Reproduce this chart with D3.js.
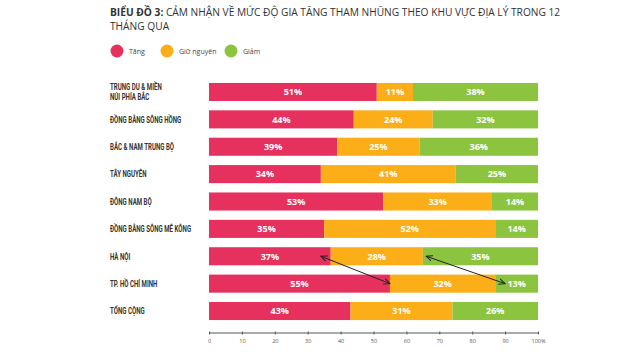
<!DOCTYPE html>
<html><head><meta charset="utf-8">
<script src="https://cdn.jsdelivr.net/npm/d3@7"></script>
<style>
body{margin:0;background:#fff;}
svg{display:block;}
</style></head>
<body>
<svg id="c" width="640" height="360"></svg>
<script>
const categories = [
  ["TRUNG DU & MIỀN","NÚI PHÍA BẮC"],
  ["ĐỒNG BẰNG SÔNG HỒNG"],
  ["BẮC & NAM TRUNG BỘ"],
  ["TÂY NGUYÊN"],
  ["ĐÔNG NAM BỘ"],
  ["ĐỒNG BẰNG SÔNG MÊ KÔNG"],
  ["HÀ NỘI"],
  ["TP. HỒ CHÍ MINH"],
  ["TỔNG CỘNG"]
];
const seriesNames = ["Tăng","Giữ nguyên","Giảm"];
const tang = [51,44,39,34,53,35,37,55,43];
const giuNguyen = [11,24,25,41,33,52,28,32,31];
const giam = [38,32,36,25,14,14,35,13,26];
const colors = ["#e6305e","#fbae17","#8cc43f"];
const tickValues = [0,10,20,30,40,50,60,70,80,90,100];
// arrows: [rowFrom, valueFrom, rowTo, valueTo]
const arrows = [[6,34,7,55],[6,66,7,90]];

const svg = d3.select("#c");
const x = d3.scaleLinear().domain([0,100]).range([209,538]);
const y = d3.scaleBand().domain(d3.range(categories.length)).range([78.3,324.7]).paddingInner(0.34).paddingOuter(0.17);

// title
const t = svg.append("text").attr("x",110).attr("y",16).attr("font-family","'Open Sans', sans-serif").attr("font-size",10.2).attr("fill","#333");
t.append("tspan").attr("font-weight","bold").text("BIỂU ĐỒ 3: ");
t.append("tspan").text("CẢM NHẬN VỀ MỨC ĐỘ GIA TĂNG THAM NHŨNG THEO KHU VỰC ĐỊA LÝ TRONG 12");
svg.append("text").attr("x",110).attr("y",30).attr("font-family","'Open Sans', sans-serif").attr("font-size",10.2).attr("fill","#333").text("THÁNG QUA");

// legend
const legX = [117,167,231];
seriesNames.forEach((n,i)=>{
  svg.append("circle").attr("cx",legX[i]).attr("cy",51).attr("r",6.5).attr("fill",colors[i]);
  svg.append("text").attr("x",legX[i]+12).attr("y",54).attr("font-family","'Open Sans', sans-serif").attr("font-size",7).attr("fill","#444").text(n);
});

// bars
const rows = categories.map((c,i)=>({i, vals:[tang[i],giuNguyen[i],giam[i]]}));
rows.forEach(r=>{
  let acc=0;
  r.vals.forEach((v,k)=>{
    const x0=acc, x1=Math.min(acc+v,100); acc=acc+v;
    svg.append("rect").attr("x",x(x0)).attr("y",y(r.i)).attr("width",x(x1)-x(x0)).attr("height",y.bandwidth()).attr("fill",colors[k]);
    svg.append("text").attr("x",(x(x0)+x(x1))/2).attr("y",y(r.i)+y.bandwidth()/2+3.3)
      .attr("text-anchor","middle").attr("font-family","'Open Sans', sans-serif").attr("font-weight","bold")
      .attr("font-size",9).attr("fill","#fff").text(v+"%");
  });
  // category label
  const lines = categories[r.i];
  const cy = y(r.i)+y.bandwidth()/2;
  lines.forEach((ln,j)=>{
    svg.append("text").attr("transform",`translate(110,${cy+3.3 + (j-(lines.length-1)/2)*9.6}) scale(0.68,1)`)
      .attr("font-family","Roboto, sans-serif").attr("font-weight","bold")
      .attr("font-size",9).attr("fill","#333").text(ln);
  });
});

// arrows
const defs = svg.append("defs");
defs.append("marker").attr("id","ah").attr("viewBox","0 0 10 10").attr("refX",9).attr("refY",5)
  .attr("markerWidth",7).attr("markerHeight",7).attr("orient","auto-start-reverse")
  .append("path").attr("d","M0,1 L9,5 L0,9").attr("fill","none").attr("stroke","#222").attr("stroke-width",1.4);
arrows.forEach(a=>{
  svg.append("line").attr("x1",x(a[1])).attr("y1",y(a[0])+y.bandwidth()/2).attr("x2",x(a[3])).attr("y2",y(a[2])+y.bandwidth()/2)
    .attr("stroke","#222").attr("stroke-width",1).attr("marker-start","url(#ah)").attr("marker-end","url(#ah)");
});

// axis
const ax = svg.append("g").attr("transform","translate(0,333)")
  .call(d3.axisBottom(x).tickValues(tickValues).tickSize(2).tickFormat(d=>d===100?"100%":d));
ax.select(".domain").attr("stroke","#555").attr("d","M209,0H538");
ax.selectAll(".tick line").attr("stroke","#555").attr("y1",-1.5).attr("y2",1.5);
ax.selectAll("text").attr("font-family","'Open Sans', sans-serif").attr("font-size",5.5).attr("fill","#555").attr("dy","0.9em");
</script>
</body></html>
